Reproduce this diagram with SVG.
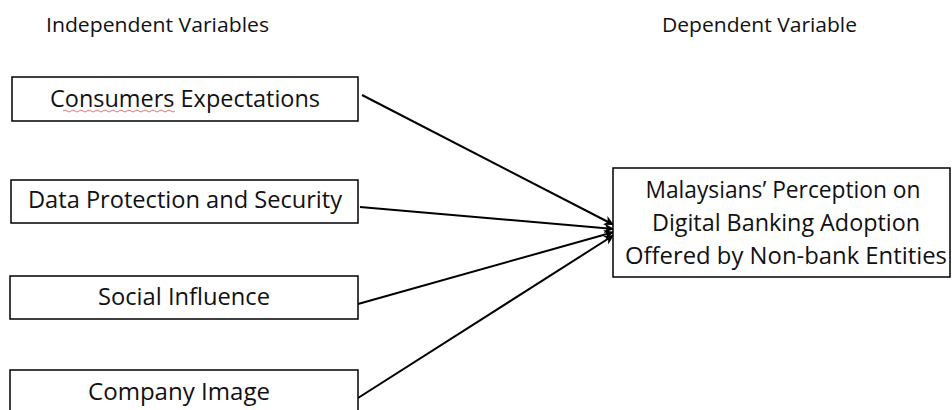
<svg xmlns="http://www.w3.org/2000/svg" width="952" height="410" viewBox="0 0 952 410">
<style>
.box{fill:#fff;stroke:#000;stroke-width:1.5}
.t{font-family:"Open Sans","Liberation Sans",sans-serif;font-size:23px;fill:#111;text-anchor:middle}
.h{font-family:"Open Sans","Liberation Sans",sans-serif;font-size:20.5px;fill:#111}
.c{stroke:#000;stroke-width:2;fill:none}
</style>
<defs>
<marker id="ah" markerUnits="userSpaceOnUse" markerWidth="12" markerHeight="10" refX="10" refY="5" orient="auto">
<path d="M0,0 L10,5 L0,10 L3,5 Z" fill="#000"/>
</marker>
</defs>
<rect width="952" height="410" fill="#fff"/>
<text class="h" x="46" y="32" textLength="223" lengthAdjust="spacingAndGlyphs">Independent Variables</text>
<text class="h" x="662" y="32" textLength="195" lengthAdjust="spacingAndGlyphs">Dependent Variable</text>
<g id="connectors">
<line class="c" x1="362" y1="95" x2="614" y2="225" marker-end="url(#ah)"/>
<line class="c" x1="360" y1="207" x2="614" y2="229" marker-end="url(#ah)"/>
<line class="c" x1="358" y1="304" x2="614" y2="232" marker-end="url(#ah)"/>
<line class="c" x1="358" y1="398" x2="614" y2="235" marker-end="url(#ah)"/>
</g>
<g id="n1">
<rect class="box" x="12" y="77" width="346" height="44"/>
<text class="t" x="185" y="107" textLength="270" lengthAdjust="spacingAndGlyphs">Consumers Expectations</text>
<path d="M63,111 q2,-2 4,0 t4,0 t4,0 t4,0 t4,0 t4,0 t4,0 t4,0 t4,0 t4,0 t4,0 t4,0 t4,0 t4,0 t4,0 t4,0 t4,0 t4,0 t4,0 t4,0 t4,0 t4,0 t4,0 t4,0 t4,0 t4,0 t4,0 t4,0" fill="none" stroke="#e05050" stroke-width="0.8"/>
</g>
<g id="n2">
<rect class="box" x="11" y="180" width="347" height="43"/>
<text class="t" x="185" y="208" textLength="314" lengthAdjust="spacingAndGlyphs">Data Protection and Security</text>
</g>
<g id="n3">
<rect class="box" x="10" y="276" width="348" height="43"/>
<text class="t" x="184" y="305" textLength="172" lengthAdjust="spacingAndGlyphs">Social Influence</text>
</g>
<g id="n4">
<rect class="box" x="10" y="370" width="348" height="46"/>
<text class="t" x="179" y="400" textLength="182" lengthAdjust="spacingAndGlyphs">Company Image</text>
</g>
<g id="n5">
<rect class="box" x="613" y="168" width="337" height="109"/>
<text class="t" x="783" y="198" textLength="275" lengthAdjust="spacingAndGlyphs">Malaysians’ Perception on</text>
<text class="t" x="786" y="231" textLength="268" lengthAdjust="spacingAndGlyphs">Digital Banking Adoption</text>
<text class="t" x="786" y="264" textLength="322" lengthAdjust="spacingAndGlyphs">Offered by Non-bank Entities</text>
</g>
</svg>
